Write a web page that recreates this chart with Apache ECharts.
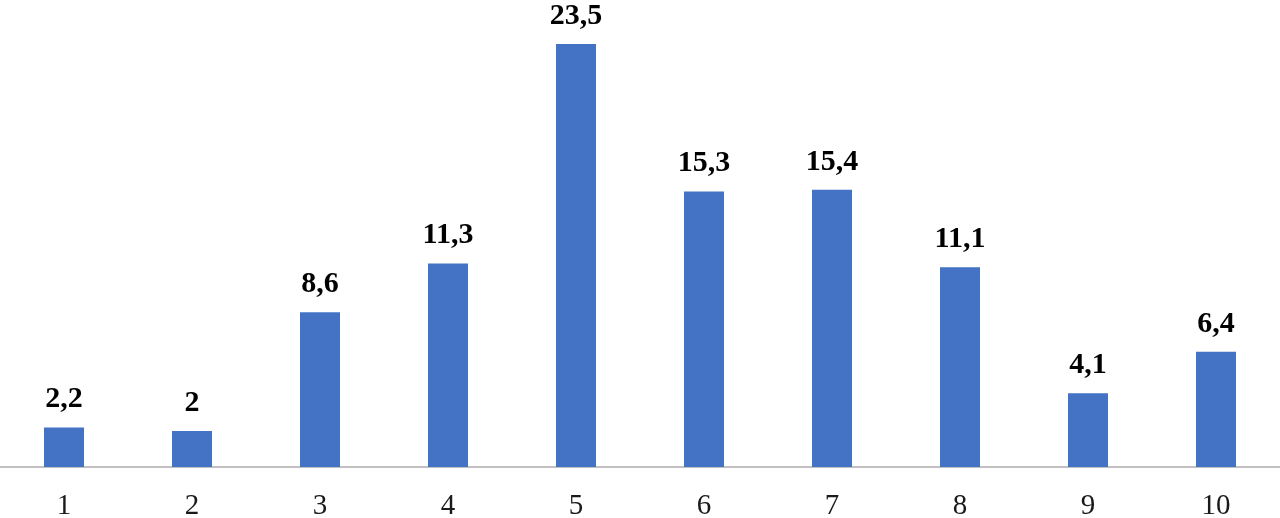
<!DOCTYPE html>
<html><head><meta charset="utf-8">
<script src="https://cdn.jsdelivr.net/npm/echarts@6/dist/echarts.min.js"></script>
<style>html,body{margin:0;padding:0;background:#fff}#c{width:1280px;height:518px}</style>
</head><body><div id="c"></div>
<script>
const categories = ['1','2','3','4','5','6','7','8','9','10'];
const values = [2.2, 2, 8.6, 11.3, 23.5, 15.3, 15.4, 11.1, 4.1, 6.4];
const chart = echarts.init(document.getElementById('c'));
chart.setOption({
  animation: false,
  grid: {left: 0, right: 0, top: 17, bottom: 51, containLabel: false, outerBoundsMode: 'none'},
  xAxis: {
    type: 'category', data: categories,
    axisLine: {lineStyle: {color: '#c0c0c0', width: 2}},
    axisTick: {show: false},
    axisLabel: {fontFamily: 'Liberation Serif', fontSize: 29, color: '#1a1a1a', margin: 25}
  },
  yAxis: {type: 'value', min: 0, max: 25, show: false, splitLine: {show: false}},
  series: [{
    type: 'bar', data: values, barWidth: 40,
    itemStyle: {color: '#4472c4'},
    label: {show: true, position: 'top', distance: 13,
      fontFamily: 'Liberation Serif', fontWeight: 'bold', fontSize: 30, color: '#000',
      formatter: p => String(p.value).replace('.', ',')}
  }]
});
</script></body></html>
